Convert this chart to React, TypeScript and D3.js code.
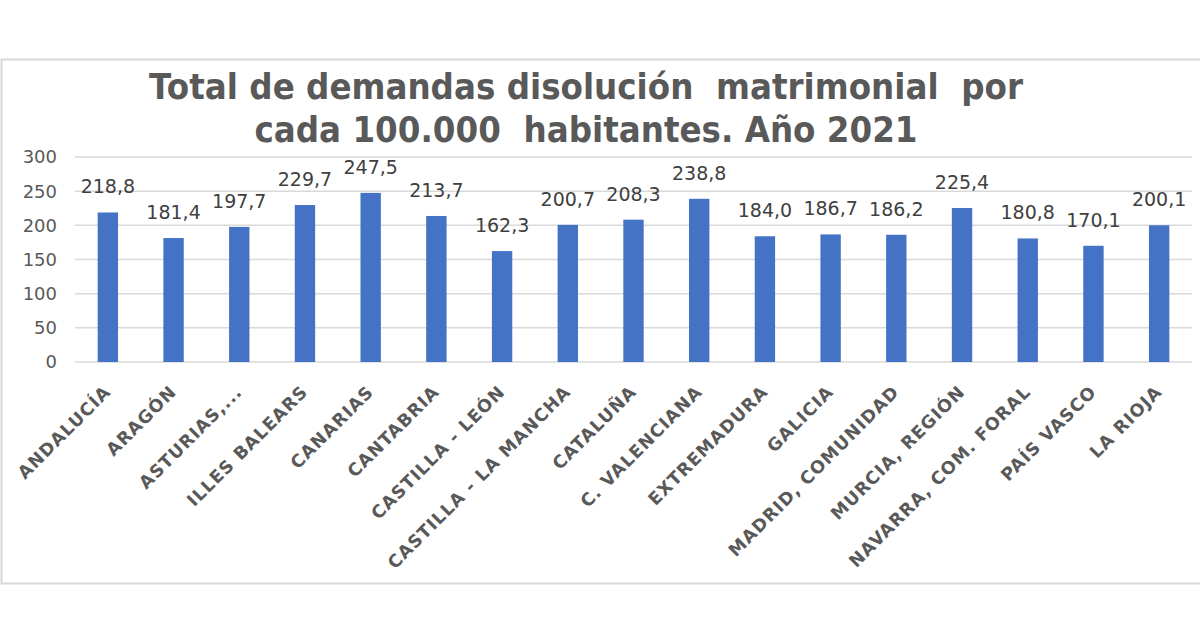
import React from "react";
import * as d3 from "d3";

const categories = [
  "ANDALUCÍA", "ARAGÓN", "ASTURIAS,...", "ILLES BALEARS", "CANARIAS", "CANTABRIA",
  "CASTILLA - LEÓN", "CASTILLA - LA MANCHA", "CATALUÑA", "C. VALENCIANA", "EXTREMADURA",
  "GALICIA", "MADRID, COMUNIDAD", "MURCIA, REGIÓN", "NAVARRA, COM. FORAL", "PAÍS VASCO", "LA RIOJA",
];
const values = [218.8, 181.4, 197.7, 229.7, 247.5, 213.7, 162.3, 200.7, 208.3, 238.8, 184.0, 186.7, 186.2, 225.4, 180.8, 170.1, 200.1];
const yTicks = [0, 50, 100, 150, 200, 250, 300];
const titleLines = ["Total de demandas disolución  matrimonial  por", "cada 100.000  habitantes. Año 2021"];

const W = 1200;
const H = 634;

export default function App() {
  const x = d3.scaleBand<string>().domain(categories).range([75, 1192]).paddingInner(0.69).paddingOuter(0.345);
  const y = d3.scaleLinear().domain([0, 300]).range([362, 157]);
  const fmt = (v: number) => v.toFixed(1).replace(".", ",");
  const cx = (c: string) => (x(c) as number) + x.bandwidth() / 2;

  return (
    <svg width={W} height={H} style={{ position: "absolute", left: 0, top: 0, background: "#fff" }}>
      <rect x={1.5} y={59.5} width={1205} height={524} fill="#fff" stroke="#d9d9d9" strokeWidth={2} />
      {titleLines.map((t, i) => (
        <text key={i} transform={`translate(586,${99 + i * 42.5}) scale(1,1.08)`} textAnchor="middle" fill="#595959"
          fontFamily="DejaVu Sans" fontWeight="bold" fontSize={32.6} style={{ whiteSpace: "pre" }}>{t}</text>
      ))}
      {yTicks.map((t) => (
        <g key={t}>
          <line x1={75} x2={1192} y1={y(t)} y2={y(t)} stroke="#d9d9d9" strokeWidth={1.5} />
          <text x={57} y={y(t)} dy="0.36em" textAnchor="end" fill="#595959" fontFamily="DejaVu Sans" fontSize={18}>{t}</text>
        </g>
      ))}
      {categories.map((c, i) => (
        <g key={c}>
          <rect x={x(c)} y={y(values[i])} width={x.bandwidth()} height={y(0) - y(values[i])} fill="#4472C4" />
          <text x={cx(c)} y={y(values[i]) - 19} textAnchor="middle" fill="#404040"
            fontFamily="DejaVu Sans" fontSize={19}>{fmt(values[i])}</text>
          <text transform={`translate(${cx(c) + 4},393) rotate(-45)`} textAnchor="end" fill="#595959"
            fontFamily="DejaVu Sans" fontWeight="bold" fontSize={17.5} letterSpacing={1}>{c}</text>
        </g>
      ))}
    </svg>
  );
}
